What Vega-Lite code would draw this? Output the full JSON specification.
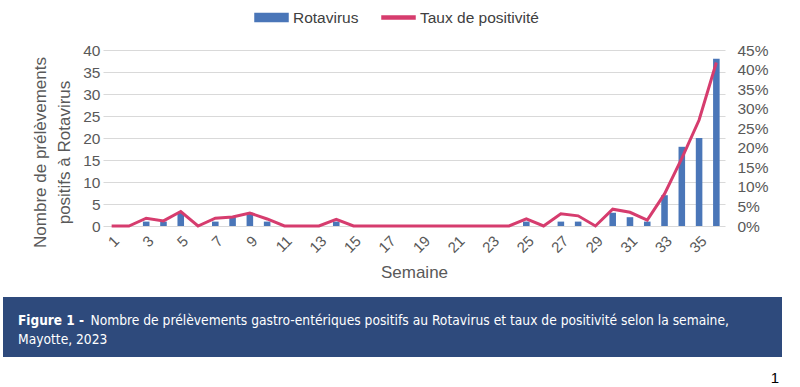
{
  "$schema": "https://vega.github.io/schema/vega-lite/v6.json",
  "background": "white",
  "padding": {"left": 3, "top": 0, "right": 0, "bottom": 0},
  "config": {"font": "Liberation Sans", "view": {"stroke": null}},
  "spacing": 16,
  "vconcat": [
    {
      "spacing": 0,
      "hconcat": [
        {
          "width": 28,
          "height": 176,
          "data": {"values": [{"vide": ""}]},
          "mark": {"type": "text"},
          "encoding": {"text": {"field": "vide"}}
        },
        {
          "width": 622,
          "height": 176,
          "data": {"values": [
            {"semaine": 1, "rotavirus": 0, "taux": 0},
            {"semaine": 2, "rotavirus": 0, "taux": 0},
            {"semaine": 3, "rotavirus": 1, "taux": 0.020},
            {"semaine": 4, "rotavirus": 1, "taux": 0.013},
            {"semaine": 5, "rotavirus": 3, "taux": 0.037},
            {"semaine": 6, "rotavirus": 0, "taux": 0},
            {"semaine": 7, "rotavirus": 1, "taux": 0.020},
            {"semaine": 8, "rotavirus": 2, "taux": 0.023},
            {"semaine": 9, "rotavirus": 3, "taux": 0.033},
            {"semaine": 10, "rotavirus": 1, "taux": 0.018},
            {"semaine": 11, "rotavirus": 0, "taux": 0},
            {"semaine": 12, "rotavirus": 0, "taux": 0},
            {"semaine": 13, "rotavirus": 0, "taux": 0},
            {"semaine": 14, "rotavirus": 1, "taux": 0.017},
            {"semaine": 15, "rotavirus": 0, "taux": 0},
            {"semaine": 16, "rotavirus": 0, "taux": 0},
            {"semaine": 17, "rotavirus": 0, "taux": 0},
            {"semaine": 18, "rotavirus": 0, "taux": 0},
            {"semaine": 19, "rotavirus": 0, "taux": 0},
            {"semaine": 20, "rotavirus": 0, "taux": 0},
            {"semaine": 21, "rotavirus": 0, "taux": 0},
            {"semaine": 22, "rotavirus": 0, "taux": 0},
            {"semaine": 23, "rotavirus": 0, "taux": 0},
            {"semaine": 24, "rotavirus": 0, "taux": 0},
            {"semaine": 25, "rotavirus": 1, "taux": 0.018},
            {"semaine": 26, "rotavirus": 0, "taux": 0},
            {"semaine": 27, "rotavirus": 1, "taux": 0.031},
            {"semaine": 28, "rotavirus": 1, "taux": 0.026},
            {"semaine": 29, "rotavirus": 0, "taux": 0},
            {"semaine": 30, "rotavirus": 3, "taux": 0.043},
            {"semaine": 31, "rotavirus": 2, "taux": 0.035},
            {"semaine": 32, "rotavirus": 1, "taux": 0.015},
            {"semaine": 33, "rotavirus": 7, "taux": 0.082},
            {"semaine": 34, "rotavirus": 18, "taux": 0.173},
            {"semaine": 35, "rotavirus": 20, "taux": 0.271},
            {"semaine": 36, "rotavirus": 38, "taux": 0.418}
          ]},
          "encoding": {
            "x": {
              "field": "semaine", "type": "ordinal",
              "scale": {"paddingInner": 0.62, "paddingOuter": 0.31},
              "axis": {
                "values": [1,3,5,7,9,11,13,15,17,19,21,23,25,27,29,31,33,35],
                "labelAngle": -45, "labelFontSize": 15, "labelColor": "#595959",
                "labelPadding": 7, "ticks": false, "domain": false,
                "title": "Semaine", "titleFontSize": 17, "titleFontWeight": "normal",
                "titleColor": "#595959", "titlePadding": 9
              }
            }
          },
          "layer": [
            {
              "mark": {"type": "bar"},
              "encoding": {
                "y": {
                  "field": "rotavirus", "type": "quantitative",
                  "scale": {"domain": [0, 40]},
                  "axis": {
                    "values": [0,5,10,15,20,25,30,35,40],
                    "labelFontSize": 15.5, "labelColor": "#595959", "labelPadding": 3,
                    "ticks": false, "domain": false,
                    "gridColor": "#D9D9D9", "gridWidth": 1,
                    "title": ["Nombre de prélèvements", "positifs à Rotavirus"],
                    "titleFontSize": 17, "titleFontWeight": "normal", "titleColor": "#595959",
                    "titleLineHeight": 24, "titlePadding": 9, "titleY": 102
                  }
                },
                "color": {
                  "datum": "Rotavirus", "type": "nominal",
                  "scale": {"domain": ["Rotavirus", "Taux de positivité"], "range": ["#4A76B8", "#D63C6E"]},
                  "legend": {
                    "title": null, "orient": "none", "legendX": 251, "legendY": -50,
                    "direction": "horizontal", "padding": 0,
                    "labelFontSize": 15.5, "labelColor": "#404040", "symbolSize": 1089,
                    "columnPadding": 20, "labelOffset": 4,
                    "encode": {
                      "symbols": {"update": {
                        "shape": {"signal": "datum.value === 'Rotavirus' ? 'M-1,-0.24H1V0.24H-1Z' : 'M-1,-0.09H1V0.09H-1Z'"},
                        "fill": {"signal": "datum.value === 'Rotavirus' ? '#4A76B8' : '#D63C6E'"},
                        "stroke": {"value": "transparent"},
                        "opacity": {"value": 1}
                      }}
                    }
                  }
                }
              }
            },
            {
              "mark": {"type": "line", "strokeWidth": 3},
              "encoding": {
                "y": {
                  "field": "taux", "type": "quantitative",
                  "scale": {"domain": [0, 0.45]},
                  "axis": {
                    "orient": "right", "format": ".0%",
                    "values": [0,0.05,0.1,0.15,0.2,0.25,0.3,0.35,0.4,0.45],
                    "labelFontSize": 15.5, "labelColor": "#595959", "labelPadding": 12,
                    "ticks": false, "domain": false, "grid": false, "title": null
                  }
                },
                "color": {"datum": "Taux de positivité", "type": "nominal"}
              }
            }
          ],
          "resolve": {"scale": {"y": "independent"}}
        }
      ]
    },
    {
      "width": 779,
      "height": 60,
      "view": {"fill": "#2E4A7C", "stroke": null},
      "title": {"text": "1", "orient": "bottom", "anchor": "end", "fontSize": 15, "fontWeight": "normal", "color": "#000000", "offset": 14, "dx": -3},
      "data": {"values": [{"gras": "Figure 1 -", "ligne1": "Nombre de prélèvements gastro-entériques positifs au Rotavirus et taux de positivité selon la semaine,", "ligne2": "Mayotte, 2023"}]},
      "layer": [
        {
          "mark": {"type": "text", "align": "left", "baseline": "middle", "dx": -374.5, "dy": -6, "font": "DejaVu Sans Condensed, Liberation Sans", "fontWeight": "bold", "fontSize": 13.5, "color": "#FFFFFF"},
          "encoding": {"text": {"field": "gras"}}
        },
        {
          "mark": {"type": "text", "align": "left", "baseline": "middle", "dx": -302, "dy": -6, "font": "DejaVu Sans Condensed, Liberation Sans", "fontSize": 13.7, "color": "#FFFFFF"},
          "encoding": {"text": {"field": "ligne1"}}
        },
        {
          "mark": {"type": "text", "align": "left", "baseline": "middle", "dx": -374.5, "dy": 13, "font": "DejaVu Sans Condensed, Liberation Sans", "fontSize": 13.7, "color": "#FFFFFF"},
          "encoding": {"text": {"field": "ligne2"}}
        }
      ]
    }
  ]
}
